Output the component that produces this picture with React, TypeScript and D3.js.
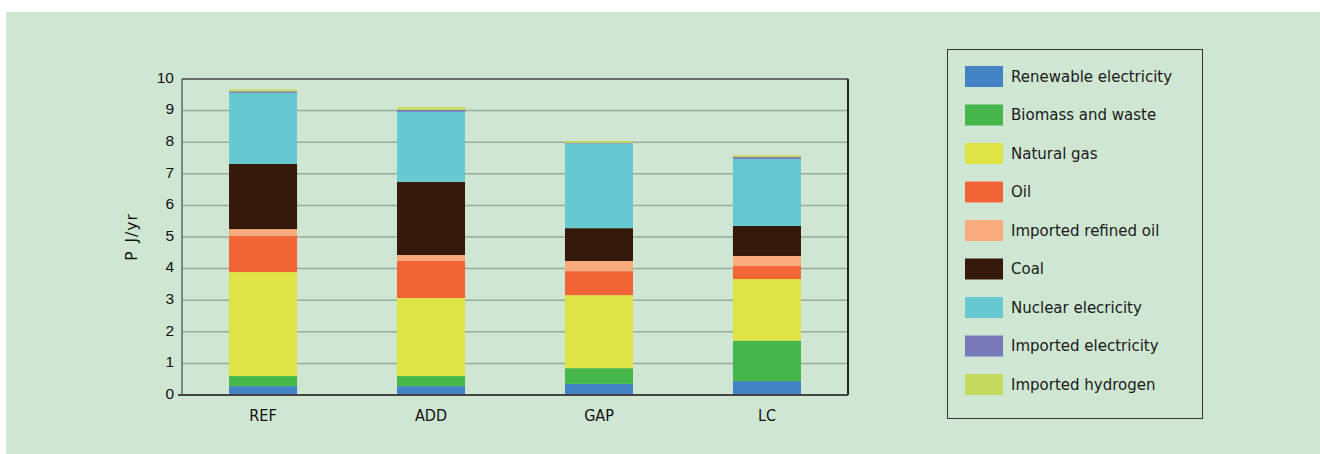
import React from "react";
import * as d3 from "d3";

const scenarios = ["REF", "ADD", "GAP", "LC"];
const seriesNames = [
  "Renewable electricity",
  "Biomass and waste",
  "Natural gas",
  "Oil",
  "Imported refined oil",
  "Coal",
  "Nuclear elecricity",
  "Imported electricity",
  "Imported hydrogen",
];
const renewable = [0.28, 0.28, 0.35, 0.44];
const biomass = [0.32, 0.32, 0.5, 1.28];
const naturalGas = [3.29, 2.47, 2.31, 1.95];
const oil = [1.14, 1.17, 0.76, 0.41];
const refinedOil = [0.22, 0.19, 0.32, 0.32];
const coal = [2.06, 2.31, 1.04, 0.95];
const nuclear = [2.25, 2.22, 2.68, 2.12];
const importedElec = [0.05, 0.06, 0.02, 0.06];
const hydrogen = [0.06, 0.09, 0.06, 0.06];
const yTicks = [0, 1, 2, 3, 4, 5, 6, 7, 8, 9, 10];

const colours = [
  "#4383c4",
  "#47b64a",
  "#dee346",
  "#f26536",
  "#f9ab7e",
  "#35190a",
  "#67c8cf",
  "#7779b9",
  "#c5da5e",
];

const allSeries = [renewable, biomass, naturalGas, oil, refinedOil, coal, nuclear, importedElec, hydrogen];

const plot = { left: 182, right: 848, top: 79, bottom: 395 };
const condensed = "'DejaVu Sans Condensed', 'DejaVu Sans', sans-serif";
const dejavu = "'DejaVu Sans', sans-serif";

export default function App() {
  const rows = scenarios.map((s, i) => {
    const r: any = { scenario: s };
    seriesNames.forEach((n, k) => (r[n] = allSeries[k][i]));
    return r;
  });
  const stacked = d3.stack().keys(seriesNames)(rows);

  const x = d3
    .scaleBand()
    .domain(scenarios)
    .range([plot.left, plot.right])
    .paddingInner(0.595)
    .paddingOuter(0.28);
  const y = d3.scaleLinear().domain([0, 10]).range([plot.bottom, plot.top]);

  return (
    <svg width={1320} height={454} style={{ position: "absolute", left: 0, top: 0 }}>
      <rect x={6} y={12} width={1314} height={442} fill="#cfe6d2" />

      {/* grid */}
      {yTicks.slice(1, -1).map((t) => (
        <line key={t} x1={plot.left} x2={plot.right} y1={y(t)} y2={y(t)} stroke="#9aab9b" strokeWidth={1.5} />
      ))}

      {/* bars */}
      {stacked.map((layer, k) => (
        <g key={layer.key} fill={colours[k]}>
          {layer.map((d: any, i) => (
            <rect
              key={i}
              x={x(scenarios[i])}
              width={x.bandwidth()}
              y={y(d[1])}
              height={Math.max(0, y(d[0]) - y(d[1]))}
            />
          ))}
        </g>
      ))}

      {/* frame */}
      <line x1={plot.left} x2={plot.right} y1={plot.top} y2={plot.top} stroke="#444" strokeWidth={1.5} />
      <line x1={plot.right} x2={plot.right} y1={plot.top} y2={plot.bottom} stroke="#222" strokeWidth={2} />
      <line x1={plot.left} x2={plot.left} y1={plot.top} y2={plot.bottom} stroke="#666" strokeWidth={1.5} />
      <line x1={plot.left - 4} x2={plot.right} y1={plot.bottom} y2={plot.bottom} stroke="#444" strokeWidth={2} />

      {/* y ticks */}
      {yTicks.map((t) => (
        <text
          key={t}
          x={174}
          y={y(t)}
          dy="0.25em"
          textAnchor="end"
          fontFamily="'Liberation Sans', Arial, sans-serif"
          fontSize={15.5}
          fill="#111"
        >
          {t}
        </text>
      ))}
      <text
        transform={`translate(137, ${(plot.top + plot.bottom) / 2}) rotate(-90)`}
        textAnchor="middle"
        fontFamily={dejavu}
        fontSize={15.5}
        letterSpacing={1}
        wordSpacing={2}
        fill="#111"
      >
        P J/yr
      </text>

      {/* x labels */}
      {scenarios.map((s) => (
        <text
          key={s}
          x={x(s)! + x.bandwidth() / 2}
          y={421}
          textAnchor="middle"
          fontFamily={condensed}
          fontStretch="condensed"
          fontSize={16}
          fill="#111"
        >
          {s}
        </text>
      ))}

      {/* legend */}
      <rect x={947.5} y={49.5} width={255} height={369} fill="none" stroke="#333" strokeWidth={1} />
      {seriesNames.map((n, k) => (
        <g key={n} transform={`translate(965, ${66 + k * 38.5})`}>
          <rect width={38} height={21} fill={colours[k]} />
          <text x={46} y={10.5} dy="0.35em" fontFamily={dejavu} fontSize={15} fill="#1a1a1a">
            {n}
          </text>
        </g>
      ))}
    </svg>
  );
}
